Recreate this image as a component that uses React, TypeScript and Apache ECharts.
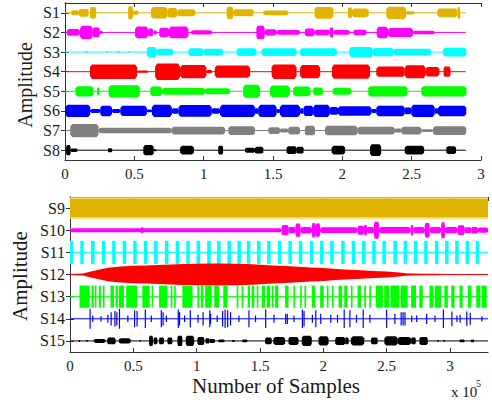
import React, { useEffect, useRef } from "react";
import * as echarts from "echarts";

type Burst = [number, number, number]; // [start x1e5, end x1e5, half-amplitude in trace spacings]

const topLabels = ["S1", "S2", "S3", "S4", "S5", "S6", "S7", "S8"];
const bottomLabels = ["S9", "S10", "S11", "S12", "S13", "S14", "S15"];
const topColors = ["#E0B400", "#FF00FF", "#00FFFF", "#FF0000", "#00FF00", "#0000FF", "#808080", "#000000"];
const bottomColors = ["#E0B400", "#FF00FF", "#00FFFF", "#FF0000", "#00FF00", "#0000FF", "#000000"];
const topEnd = 2.89;
const bottomEnd = 3.3;

const s1: Burst[] = [[0.045,0.1,0.13],[0.1,0.17,0.2],[0.18,0.225,0.29],[0.455,0.49,0.33],[0.49,0.53,0.1],[0.62,0.74,0.29],[0.74,0.81,0.24],[0.81,0.94,0.18],[1.166,1.214,0.31],[1.214,1.36,0.18],[1.43,1.61,0.12],[1.8,1.935,0.3],[2.04,2.07,0.27],[2.07,2.19,0.22],[2.317,2.46,0.31],[2.46,2.52,0.08],[2.685,2.83,0.22],[2.83,2.85,0.3]];
const s2: Burst[] = [[0.013,0.108,0.17],[0.108,0.2,0.34],[0.2,0.25,0.25],[0.25,0.27,0.08],[0.505,0.6,0.3],[0.6,0.635,0.2],[0.64,0.66,0.1],[0.68,0.75,0.24],[0.75,0.89,0.3],[0.91,1.06,0.11],[1.38,1.44,0.34],[1.44,1.525,0.16],[1.525,1.695,0.12],[1.73,1.8,0.2],[1.8,1.91,0.14],[1.91,1.935,0.25],[1.935,2.055,0.12],[2.08,2.175,0.14],[2.248,2.33,0.29],[2.33,2.51,0.23],[2.51,2.666,0.09]];
const s3: Burst[] = [[0.15,0.16,0.06],[0.3,0.31,0.05],[0.38,0.39,0.06],[0.46,0.47,0.05],[0.59,0.66,0.26],[0.66,0.78,0.17],[0.89,1.0,0.2],[1.0,1.14,0.17],[1.238,1.38,0.2],[1.418,1.67,0.2],[1.695,1.96,0.2],[2.05,2.22,0.26],[2.22,2.37,0.21],[2.37,2.64,0.17],[2.726,2.894,0.22]];
const s4: Burst[] = [[0.18,0.52,0.37],[0.52,0.6,0.06],[0.65,0.83,0.42],[0.83,1.02,0.34],[1.02,1.06,0.08],[1.08,1.335,0.31],[1.49,1.67,0.37],[1.695,1.84,0.34],[1.925,2.2,0.36],[2.245,2.45,0.26],[2.45,2.6,0.33],[2.6,2.7,0.24],[2.73,2.78,0.26]];
const s5: Burst[] = [[0.075,0.206,0.26],[0.23,0.25,0.2],[0.314,0.54,0.31],[0.615,0.7,0.24],[0.7,1.01,0.17],[1.01,1.19,0.15],[1.285,1.406,0.33],[1.478,1.622,0.29],[1.646,1.77,0.25],[1.79,1.86,0.2],[1.93,2.065,0.18],[2.187,2.47,0.26],[2.57,2.894,0.26]];
const s6: Burst[] = [[0.002,0.182,0.31],[0.182,0.254,0.1],[0.254,0.339,0.27],[0.339,0.399,0.1],[0.399,0.591,0.26],[0.591,0.627,0.07],[0.627,0.771,0.31],[0.771,0.819,0.14],[0.819,1.058,0.3],[1.058,1.118,0.14],[1.118,1.37,0.31],[1.37,1.394,0.14],[1.394,1.526,0.31],[1.526,1.55,0.1],[1.55,1.695,0.31],[1.695,1.72,0.14],[1.72,1.79,0.26],[1.79,1.91,0.31],[1.91,1.969,0.2],[1.969,2.21,0.24],[2.21,2.245,0.1],[2.245,2.45,0.27],[2.45,2.497,0.17],[2.497,2.666,0.31],[2.666,2.69,0.14],[2.69,2.894,0.27]];
const s7: Burst[] = [[0.038,0.242,0.34],[0.242,0.77,0.14],[0.77,1.154,0.2],[1.178,1.37,0.22],[1.466,1.55,0.17],[1.55,1.61,0.1],[1.61,1.695,0.2],[1.73,1.803,0.24],[1.875,2.11,0.24],[2.11,2.378,0.2],[2.378,2.425,0.1],[2.425,2.57,0.2],[2.57,2.654,0.07],[2.654,2.894,0.22]];
const s8: Burst[] = [[0.008,0.04,0.26],[0.04,0.09,0.09],[0.31,0.34,0.1],[0.565,0.64,0.26],[0.64,0.66,0.05],[0.83,0.93,0.22],[1.105,1.14,0.22],[1.298,1.37,0.13],[1.37,1.43,0.17],[1.598,1.67,0.2],[1.67,1.72,0.17],[1.923,2.02,0.22],[2.2,2.28,0.3],[2.45,2.59,0.22],[2.75,2.82,0.2]];

const s9: Burst[] = [[0, 3.3, 0.42]];
const s10: Burst[] = [[0,1.67,0.09],[0.56,0.58,0.13],[1.67,1.725,0.23],[1.725,1.78,0.14],[1.78,1.82,0.3],[1.82,1.91,0.15],[1.91,1.935,0.33],[1.935,1.975,0.3],[1.975,2.27,0.13],[2.27,2.32,0.2],[2.32,2.345,0.23],[2.345,2.4,0.14],[2.4,2.44,0.38],[2.44,2.69,0.14],[2.69,2.71,0.23],[2.71,2.8,0.14],[2.8,2.84,0.33],[2.84,2.93,0.14],[2.93,2.96,0.36],[2.96,3.06,0.14],[3.06,3.115,0.22],[3.115,3.17,0.13],[3.17,3.22,0.15],[3.22,3.3,0.12]];
const s11Centers = [0.01,0.095,0.18,0.265,0.347,0.43,0.513,0.597,0.678,0.763,0.848,0.932,1.013,1.097,1.175,1.257,1.335,1.41,1.49,1.57,1.655,1.738,1.82,1.907,1.988,2.068,2.155,2.238,2.318,2.4,2.48,2.567,2.648,2.73,2.81,2.895,2.975,3.055,3.137,3.217];
const s11BurstLength = 0.028;
const s11Amp = 0.52;
const s12Envelope: [number, number][] = [[0,0.02],[0.1,0.05],[0.2,0.18],[0.3,0.3],[0.4,0.36],[0.5,0.39],[0.6,0.41],[0.7,0.43],[0.8,0.45],[0.9,0.47],[1.0,0.49],[1.1,0.5],[1.2,0.5],[1.3,0.49],[1.4,0.47],[1.5,0.44],[1.6,0.41],[1.7,0.38],[1.8,0.35],[1.9,0.32],[2.0,0.29],[2.1,0.25],[2.2,0.22],[2.3,0.19],[2.4,0.16],[2.5,0.13],[2.6,0.09],[2.65,0.06],[2.7,0.04],[2.8,0.035],[2.9,0.03],[2.96,0.02],[3.0,0.015],[3.3,0.015]];
const s13Blocks: [number, number][] = [[0.075,0.154],[0.17,0.188],[0.196,0.209],[0.228,0.244],[0.26,0.273],[0.32,0.347],[0.36,0.378],[0.386,0.426],[0.444,0.531],[0.571,0.629],[0.645,0.655],[0.703,0.769],[0.795,0.808],[0.822,0.835],[0.887,0.967],[1.006,1.02],[1.033,1.051],[1.067,1.118],[1.139,1.176],[1.21,1.244],[1.316,1.329],[1.355,1.368],[1.403,1.421],[1.434,1.455],[1.474,1.487],[1.514,1.54],[1.553,1.58],[1.593,1.606],[1.619,1.645],[1.698,1.725],[1.764,1.777],[1.817,1.83],[1.851,1.864],[1.909,1.936],[1.975,2.002],[2.028,2.041],[2.068,2.081],[2.12,2.147],[2.165,2.19],[2.218,2.231],[2.27,2.297],[2.323,2.337],[2.363,2.376],[2.415,2.47],[2.48,2.52],[2.53,2.6],[2.61,2.666],[2.693,2.732],[2.758,2.785],[2.838,2.87],[2.88,2.93],[2.956,2.983],[3.01,3.036],[3.075,3.1],[3.141,3.168],[3.207,3.24],[3.25,3.29]];
const s13Amp = 0.5;
const s14Spikes: [number, number][] = [[0.154,0.45],[0.175,0.15],[0.24,0.12],[0.294,0.18],[0.32,0.3],[0.35,0.35],[0.365,0.3],[0.386,0.45],[0.452,0.15],[0.505,0.38],[0.525,0.35],[0.59,0.42],[0.637,0.15],[0.716,0.38],[0.73,0.3],[0.756,0.15],[0.85,0.42],[0.86,0.3],[0.9,0.15],[0.945,0.38],[1.006,0.18],[1.046,0.3],[1.099,0.38],[1.105,0.23],[1.157,0.15],[1.2,0.35],[1.22,0.42],[1.24,0.38],[1.263,0.3],[1.329,0.15],[1.408,0.38],[1.46,0.15],[1.54,0.42],[1.606,0.18],[1.698,0.23],[1.711,0.23],[1.764,0.15],[1.83,0.42],[1.843,0.35],[1.909,0.18],[1.936,0.38],[1.975,0.23],[2.054,0.18],[2.107,0.18],[2.16,0.42],[2.205,0.38],[2.257,0.18],[2.31,0.42],[2.363,0.18],[2.495,0.42],[2.56,0.23],[2.61,0.3],[2.625,0.3],[2.64,0.3],[2.693,0.15],[2.732,0.15],[2.811,0.23],[2.877,0.15],[2.943,0.42],[3.01,0.33],[3.05,0.15],[3.075,0.18],[3.128,0.33],[3.155,0.27],[3.247,0.12]];
const s15: Burst[] = [[0.07,0.08,0.045],[0.13,0.14,0.045],[0.188,0.28,0.09],[0.294,0.36,0.15],[0.386,0.479,0.12],[0.55,0.56,0.04],[0.624,0.655,0.23],[0.66,0.69,0.15],[0.703,0.742,0.15],[0.769,0.808,0.15],[0.848,0.887,0.23],[0.914,0.98,0.23],[1.006,1.06,0.18],[1.07,1.1,0.12],[1.1,1.144,0.09],[1.17,1.22,0.06],[1.28,1.3,0.045],[1.36,1.4,0.06],[1.54,1.593,0.15],[1.606,1.698,0.18],[1.725,1.804,0.18],[1.83,1.909,0.23],[1.962,2.041,0.21],[2.094,2.173,0.18],[2.173,2.2,0.15],[2.218,2.323,0.21],[2.376,2.429,0.15],[2.482,2.587,0.21],[2.587,2.693,0.18],[2.693,2.73,0.15],[2.759,2.824,0.18],[2.9,2.91,0.045],[2.95,2.96,0.045],[3.075,3.115,0.06],[3.165,3.19,0.06]];

const FONT = "Liberation Serif";
const AXIS_COLOR = "#333";
const TEXT_COLOR = "#1a1a1a";

function burstSeries(data: Burst[], cat: number, color: string, g: number, tapered = true, minW = 1, opacity = 1) {
  return {
    type: "custom",
    xAxisIndex: g * 2,
    yAxisIndex: g * 2,
    clip: true,
    silent: true,
    data: data.map((b) => [b[0], cat, b[1], b[2]]),
    encode: { x: [0, 2], y: 1 },
    renderItem: (_p: any, api: any) => {
      const x0 = api.value(0);
      const x1 = api.value(2);
      const amp = api.value(3);
      const p0 = api.coord([x0, cat]);
      const p1 = api.coord([x1, cat]);
      const band = api.size([0, 1])[1];
      const h = amp * band;
      const w = Math.max(p1[0] - p0[0], minW);
      const y = p0[1];
      if (!tapered) {
        return {
          type: "rect",
          shape: { x: p0[0], y: y - h, width: w, height: 2 * h },
          style: { fill: color, opacity },
        };
      }
      const r = Math.min(w * 0.15, 2);
      const xa = p0[0];
      const xb = p0[0] + w;
      return {
        type: "polygon",
        shape: {
          points: [
            [xa, y - h * 0.6],
            [xa + r, y - h],
            [xb - r, y - h],
            [xb, y - h * 0.6],
            [xb, y + h * 0.6],
            [xb - r, y + h],
            [xa + r, y + h],
            [xa, y + h * 0.6],
          ],
        },
        style: { fill: color, opacity },
      };
    },
  };
}

function baseline(cat: number, end: number, color: string, g: number) {
  return {
    type: "line",
    xAxisIndex: g * 2,
    yAxisIndex: g * 2,
    silent: true,
    showSymbol: false,
    symbol: "none",
    data: [[0, cat], [end, cat]],
    lineStyle: { color, width: 1 },
  };
}

function xAxes(grid: number, max: number) {
  const common = {
    gridIndex: grid,
    type: "value",
    min: 0,
    max,
    interval: 0.5,
    splitLine: { show: false },
    axisLine: { show: true, onZero: false, lineStyle: { color: AXIS_COLOR, width: 1 } },
    axisTick: { show: true, inside: true, length: 4, lineStyle: { color: AXIS_COLOR } },
  };
  return [
    {
      ...common,
      position: "bottom",
      axisLabel: {
        show: true,
        showMaxLabel: max === 3,
        formatter: "{t|{value}}",
        rich: { t: { fontFamily: FONT, fontSize: 15, color: TEXT_COLOR } },
        margin: 6,
      },
    },
    { ...common, position: "top", axisLabel: { show: false } },
  ];
}

function yAxes(grid: number, labels: string[]) {
  const common = {
    gridIndex: grid,
    type: "category",
    data: labels,
    inverse: true,
    boundaryGap: true,
    splitLine: { show: false },
    axisLine: { show: true, lineStyle: { color: AXIS_COLOR, width: 1 } },
    axisTick: { show: true, inside: true, alignWithLabel: true, interval: 0, length: 4, lineStyle: { color: AXIS_COLOR } },
  };
  return [
    {
      ...common,
      position: "left",
      axisLabel: {
        show: true,
        interval: 0,
        formatter: "{t|{value}}",
        rich: { t: { fontFamily: FONT, fontSize: 16, color: TEXT_COLOR } },
        margin: 5,
      },
    },
    { ...common, position: "right", axisLabel: { show: false } },
  ];
}

export default function App() {
  const ref = useRef<HTMLDivElement>(null);
  useEffect(() => {
    if (!ref.current) return;
    const chart = echarts.init(ref.current, undefined, { renderer: "svg" });
    const topBursts = [s1, s2, s3, s4, s5, s6, s7, s8];
    const series: any[] = [];
    topBursts.forEach((d, i) => {
      series.push(baseline(i, topEnd, topColors[i], 0));
      series.push(burstSeries(d, i, topColors[i], 0));
    });
    for (let i = 0; i < 7; i++) series.push(baseline(i, bottomEnd, bottomColors[i], 1));
    series.push(burstSeries(s9.map((b) => [b[0], b[1], b[2] * 1.18] as Burst), 0, "#F0D860", 1, false, 1, 0.8));
    series.push(burstSeries(s9, 0, bottomColors[0], 1, false));
    series.push(burstSeries(s10, 1, bottomColors[1], 1, true));
    series.push(
      burstSeries(
        s11Centers.map((c) => [c - s11BurstLength / 2, c + s11BurstLength / 2, s11Amp] as Burst),
        2,
        bottomColors[2],
        1,
        false
      )
    );
    series.push({
      type: "custom",
      xAxisIndex: 2,
      yAxisIndex: 2,
      clip: true,
      silent: true,
      data: [[0, 3]],
      encode: { x: 0, y: 1 },
      renderItem: (_p: any, api: any) => {
        const band = api.size([0, 1])[1];
        const top = s12Envelope.map(([x, a]) => {
          const p = api.coord([x, 3]);
          return [p[0], p[1] - a * band];
        });
        const bot = s12Envelope
          .slice()
          .reverse()
          .map(([x, a]) => {
            const p = api.coord([x, 3]);
            return [p[0], p[1] + a * band];
          });
        return { type: "polygon", shape: { points: top.concat(bot) }, style: { fill: bottomColors[3] } };
      },
    });
    series.push(burstSeries(s13Blocks.map(([a, b]) => [a, b, s13Amp] as Burst), 4, bottomColors[4], 1, false));
    series.push(burstSeries(s14Spikes.map(([x, a]) => [x, x + 0.006, a] as Burst), 5, bottomColors[5], 1, false, 1.2));
    series.push(burstSeries(s15, 6, bottomColors[6], 1, true));

    chart.setOption({
      animation: false,
      backgroundColor: "#ffffff",
      textStyle: { fontFamily: FONT },
      grid: [
        { left: 65, top: 3, width: 416, height: 157, show: false },
        { left: 70, top: 197, width: 418, height: 155, show: false },
      ],
      xAxis: [...xAxes(0, 3), ...xAxes(1, 3.3)],
      yAxis: [...yAxes(0, topLabels), ...yAxes(1, bottomLabels)],
      series,
      graphic: [
        {
          type: "text",
          x: 25,
          y: 85,
          rotation: Math.PI / 2,
          style: { text: "Amplitude", font: `20px ${FONT}`, fill: TEXT_COLOR, align: "center", verticalAlign: "middle" },
        },
        {
          type: "text",
          x: 20,
          y: 276,
          rotation: Math.PI / 2,
          style: { text: "Amplitude", font: `21px ${FONT}`, fill: TEXT_COLOR, align: "center", verticalAlign: "middle" },
        },
        {
          type: "text",
          x: 276,
          y: 386,
          style: { text: "Number of Samples", font: `21px ${FONT}`, fill: TEXT_COLOR, align: "center", verticalAlign: "middle" },
        },
        {
          type: "text",
          x: 451,
          y: 392,
          style: { text: "x 10", font: `15px ${FONT}`, fill: TEXT_COLOR, align: "left", verticalAlign: "middle" },
        },
        {
          type: "text",
          x: 476,
          y: 383,
          style: { text: "5", font: `10px ${FONT}`, fill: TEXT_COLOR, align: "left", verticalAlign: "middle" },
        },
      ],
    });
    return () => chart.dispose();
  }, []);
  return (
    <div
      ref={ref}
      style={{ position: "fixed", left: 0, top: 0, width: 492, height: 402, background: "#fff" }}
    />
  );
}
